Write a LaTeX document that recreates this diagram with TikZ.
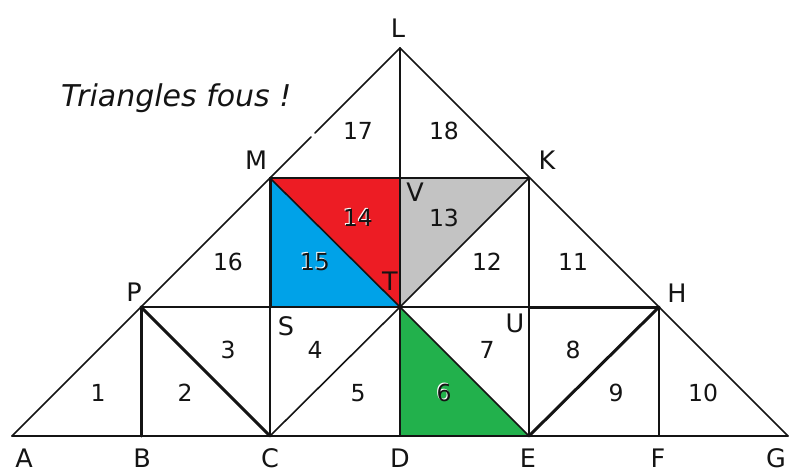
\documentclass[tikz,border=0pt]{standalone}
\usepackage{fontspec}
\setmainfont{DejaVu Sans}
\definecolor{pred}{RGB}{237,28,36}
\definecolor{pblue}{RGB}{0,162,232}
\definecolor{pgreen}{RGB}{34,177,76}
\definecolor{pgrey}{RGB}{195,195,195}
\definecolor{ink}{RGB}{20,20,20}
\begin{document}
\begin{tikzpicture}[x=1pt,y=-1pt,
  edge/.style={line width=1.6pt,draw=ink,line cap=round,line join=round},
  thick edge/.style={line width=3pt,draw=ink,line cap=round},
  ptlabel/.style={font=\fontsize{25.5}{25.5}\selectfont,text=ink,inner sep=0pt},
  numlabel/.style={font=\fontsize{23.5}{23.5}\selectfont,text=ink,inner sep=0pt},
  halo/.style={font=\fontsize{23.5}{23.5}\selectfont,text=white,inner sep=0pt}]
\useasboundingbox (0,0) rectangle (798,473);
% points
\coordinate (A) at (12,436);
\coordinate (B) at (141,436);
\coordinate (C) at (270,436);
\coordinate (D) at (400,436);
\coordinate (E) at (529,436);
\coordinate (F) at (659,436);
\coordinate (G) at (788,436);
\coordinate (P) at (141,307);
\coordinate (S) at (270,307);
\coordinate (T) at (400,307);
\coordinate (U) at (529,307);
\coordinate (H) at (659,307);
\coordinate (M) at (270,178);
\coordinate (V) at (400,178);
\coordinate (K) at (529,178);
\coordinate (L) at (400,48);
\coordinate (gap1) at (311,137);
\coordinate (gap2) at (315,133);
% fills
\fill[pred] (M) -- (V) -- (T) -- cycle;
\fill[pblue] (M) -- (S) -- (T) -- cycle;
\fill[pgrey] (V) -- (K) -- (T) -- cycle;
\fill[pgreen] (T) -- (D) -- (E) -- cycle;
% thin lines
\draw[edge] (A) -- (G);
\draw[edge] (G) -- (L);
\draw[edge] (A) -- (gap1);
\draw[edge] (gap2) -- (L);
\draw[edge] (P) -- (U);
\draw[edge] (M) -- (K);
\draw[edge] (L) -- (D);
\draw[edge] (C) -- (S);
\draw[edge] (K) -- (E);
\draw[edge] (H) -- (F);
\draw[edge] (C) -- (T);
\draw[edge] (T) -- (E);
\draw[edge] (M) -- (T);
\draw[edge] (T) -- (K);
% thick lines
\draw[thick edge] (B) -- (P);
\draw[thick edge] (P) -- (C);
\draw[thick edge] (E) -- (H);
\draw[thick edge] (U) -- (H);
\draw[thick edge] (M) -- (S);
\draw[line width=2.2pt,draw=ink] (D) -- (E);
% title
\node[font=\fontsize{30}{30}\selectfont\itshape,text=ink,inner sep=0pt,anchor=west] (title) at (61,98) {Triangles fous !};
% point labels
\node[ptlabel] (lL) at (398,28) {L};
\node[ptlabel] (lM) at (256,160) {M};
\node[ptlabel] (lK) at (547,160) {K};
\node[ptlabel] (lP) at (134,292) {P};
\node[ptlabel] (lH) at (677,293) {H};
\node[ptlabel] (lS) at (286,326) {S};
\node[ptlabel] (lT) at (390,281) {T};
\node[ptlabel] (lV) at (415,192) {V};
\node[ptlabel] (lU) at (515,323) {U};
\node[ptlabel] (lA) at (24,458) {A};
\node[ptlabel] (lB) at (142,458) {B};
\node[ptlabel] (lC) at (270,458) {C};
\node[ptlabel] (lD) at (400,458) {D};
\node[ptlabel] (lE) at (528,458) {E};
\node[ptlabel] (lF) at (658,458) {F};
\node[ptlabel] (lG) at (776,458) {G};
% numbers
\node[numlabel] (n1) at (98,393) {1};
\node[numlabel] (n2) at (185,393) {2};
\node[numlabel] (n3) at (228,350) {3};
\node[numlabel] (n4) at (315,350) {4};
\node[numlabel] (n5) at (358,393) {5};
\node[halo] (h6) at (443,392) {6};
\node[numlabel] (n6) at (444,393) {6};
\node[numlabel] (n7) at (487,350) {7};
\node[numlabel] (n8) at (573,350) {8};
\node[numlabel] (n9) at (616,393) {9};
\node[numlabel] (n10) at (703,393) {10};
\node[numlabel] (n11) at (573,262) {11};
\node[numlabel] (n12) at (487,262) {12};
\node[numlabel] (n13) at (444,218) {13};
\node[halo] (h14) at (357,217) {14};
\node[numlabel] (n14) at (358,218) {14};
\node[halo] (h15) at (314,261) {15};
\node[numlabel] (n15) at (315,262) {15};
\node[numlabel] (n16) at (228,262) {16};
\node[numlabel] (n17) at (358,131) {17};
\node[numlabel] (n18) at (444,131) {18};
\end{tikzpicture}
\end{document}
